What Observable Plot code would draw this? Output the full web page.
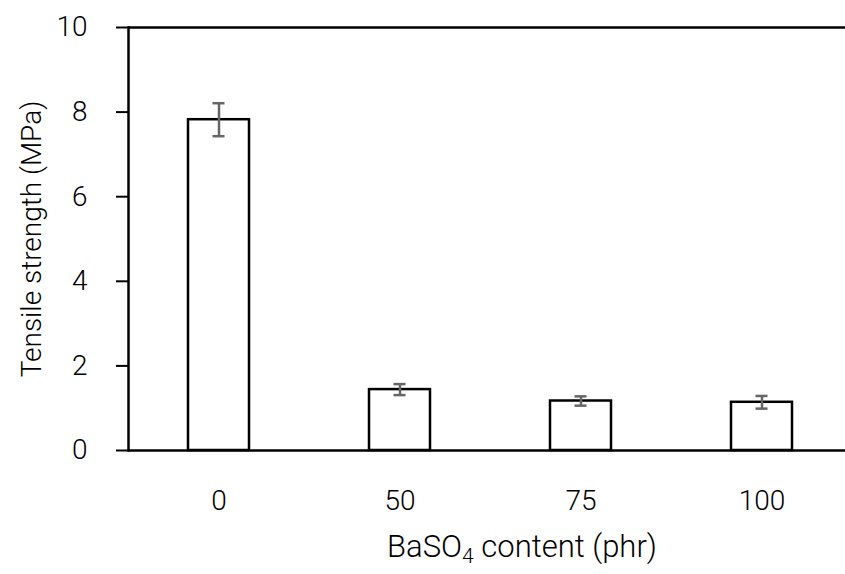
<!DOCTYPE html>
<html><head><meta charset="utf-8">
<script src="https://cdn.jsdelivr.net/npm/d3@7"></script>
<script src="https://cdn.jsdelivr.net/npm/@observablehq/plot@0.6"></script>
<style>body{margin:0;background:#fff}</style>
</head><body><div id="chart"></div>
<script>
const categories = ["0", "50", "75", "100"];
const strength = [7.82, 1.44, 1.17, 1.14];
const errors = [0.39, 0.13, 0.11, 0.15];
const yTicks = [0, 2, 4, 6, 8, 10];
const data = categories.map((c, i) => ({c, v: strength[i], e: errors[i]}));

const errColor = "#666666";
const plot = Plot.plot({
  width: 845, height: 574,
  marginTop: 27, marginBottom: 124, marginLeft: 128, marginRight: 0,
  style: {fontFamily: "Roboto", fontSize: "28px", color: "#000", background: "#fff"},
  x: {domain: categories, range: [128, 852], paddingInner: 0.663, paddingOuter: 0.33},
  y: {domain: [0, 10]},
  marks: [
    Plot.barY(data, {x: "c", y: "v", fill: "white", stroke: "black", strokeWidth: 2.5}),
    Plot.ruleX(data, {x: "c", y1: d => d.v - d.e, y2: d => d.v + d.e, stroke: errColor, strokeWidth: 2.5}),
    Plot.tickY(data, {x: "c", y: d => d.v - d.e, stroke: errColor, strokeWidth: 2.5, insetLeft: 24.5, insetRight: 24.5}),
    Plot.tickY(data, {x: "c", y: d => d.v + d.e, stroke: errColor, strokeWidth: 2.5, insetLeft: 24.5, insetRight: 24.5}),
    Plot.ruleY([0, 10], {stroke: "black", strokeWidth: 2.5}),
    Plot.frame({anchor: "left", stroke: "black", strokeWidth: 2.5}),
    Plot.axisY({ticks: yTicks, tickSize: 12, tickPadding: 29, strokeWidth: 2, fontSize: 28, fontWeight: 300,
      label: "Tensile strength (MPa)", labelAnchor: "center", labelArrow: "none", labelOffset: 107}),
    Plot.axisX({tickSize: 0, tickPadding: 40, label: null, fontSize: 28, fontWeight: 300})
  ]
});

const t = d3.select(plot).append("text")
  .attr("x", 522).attr("y", 557)
  .attr("text-anchor", "middle")
  .attr("fill", "black")
  .style("font-size", "31px").style("font-weight", 300);
t.append("tspan").text("BaSO");
t.append("tspan").attr("dy", 6).style("font-size", "21px").text("4");
t.append("tspan").attr("dy", -6).text(" content (phr)");

document.getElementById("chart").append(plot);
</script>
</body></html>
